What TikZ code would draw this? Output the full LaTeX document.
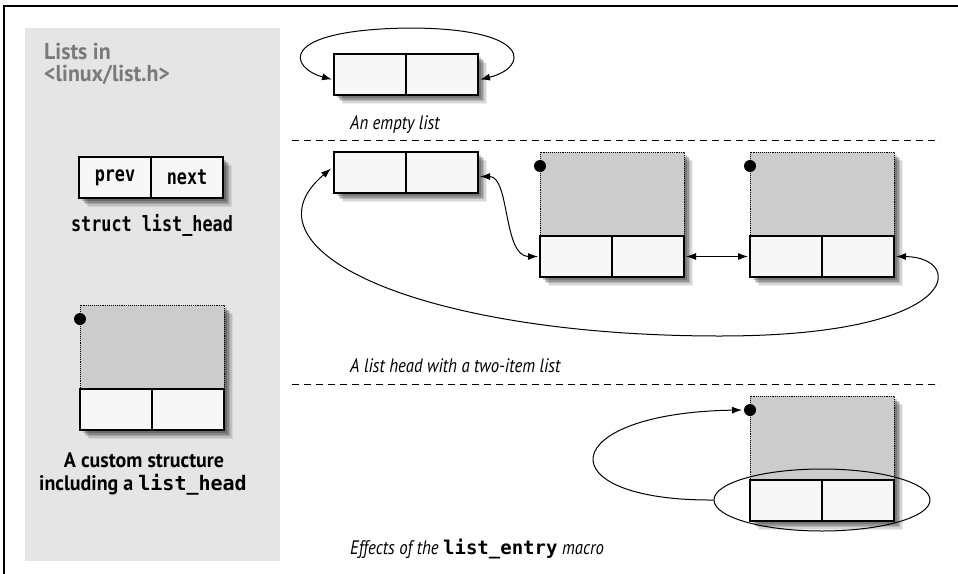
\documentclass[tikz,border=0pt]{standalone}
\usepackage{fontspec}
\setmainfont{PT Sans}
\newfontfamily\capfont[FakeStretch=0.86]{PT Sans}
\newfontfamily\headfont[FakeStretch=0.95]{PT Sans}
\newfontfamily\codefont[FakeStretch=0.8]{DejaVu Sans Mono}
\newfontfamily\codewide{DejaVu Sans Mono}
\usetikzlibrary{arrows.meta,shadows,shapes.geometric,calc}
\definecolor{cellfill}{HTML}{F7F7F7}
\definecolor{bodyfill}{HTML}{CCCCCC}
\definecolor{panelfill}{HTML}{E5E5E5}
\definecolor{headgrey}{HTML}{7A7A7A}
\begin{document}
\begin{tikzpicture}[x=1pt,y=-1pt,
  cell/.style={draw, line width=1.1pt, fill=cellfill, minimum width=72pt, minimum height=41pt, inner sep=0pt, outer sep=0pt},
  body/.style={draw, densely dotted, line width=0.9pt, fill=bodyfill, minimum width=144pt, minimum height=84pt, inner sep=0pt, outer sep=0pt},
  shadowbox/.style={fill=white, inner sep=0pt, outer sep=0pt,
    drop shadow={shadow xshift=9pt, shadow yshift=-9pt, fill=black, opacity=0.07},
    drop shadow={shadow xshift=7.5pt, shadow yshift=-7.5pt, fill=black, opacity=0.10},
    drop shadow={shadow xshift=6pt, shadow yshift=-6pt, fill=black, opacity=0.14},
    drop shadow={shadow xshift=4.5pt, shadow yshift=-4.5pt, fill=black, opacity=0.18},
    drop shadow={shadow xshift=3pt, shadow yshift=-3pt, fill=black, opacity=0.20}},
  dot/.style={circle, fill=black, minimum size=12pt, inner sep=0pt, outer sep=0pt},
  arr/.style={line width=1pt, {Latex[length=10pt,width=7pt]}-{Latex[length=10pt,width=7pt]}},
  arrend/.style={line width=1pt, -{Latex[length=10pt,width=7pt]}},
  sep/.style={line width=1pt, dash pattern=on 7pt off 5pt},
  caption/.style={font=\capfont\itshape\fontsize{19.5}{22}\selectfont, inner sep=0pt, anchor=base west},
  title/.style={font=\headfont\bfseries\fontsize{23}{26}\selectfont, text=headgrey, inner sep=0pt, anchor=base west},
  boldcap/.style={font=\headfont\bfseries\fontsize{21}{24}\selectfont, inner sep=0pt, anchor=base},
  code/.style={font=\codefont\bfseries\fontsize{21}{24}\selectfont, inner sep=0pt},
  pics/liststruct/.style={code={
    \node[shadowbox, minimum width=144pt, minimum height=125pt, anchor=north west] (-sh) at (0,0) {};
    \node[body, anchor=north west] (-body) at (0,0) {};
    \node[cell, anchor=north west] (-a) at (0,84) {};
    \node[cell, anchor=north west] (-b) at (72,84) {};
    \node[dot] (-dot) at (0,14) {};
  }},
  pics/headbox/.style={code={
    \node[shadowbox, minimum width=144pt, minimum height=41pt, anchor=north west] (-sh) at (0,0) {};
    \node[cell, anchor=north west] (-a) at (0,0) {};
    \node[cell, anchor=north west] (-b) at (72,0) {};
  }}
]
\path[use as bounding box] (0,0) rectangle (958,573);
% frame
\draw[line width=2pt] (4,6) -- (959,6);
\draw[line width=2pt] (4,5) -- (4,574);
% left panel
\fill[panelfill] (25,28) rectangle (280,561);
\node[title] (t1) at (44,59.5) {Lists in};
\node[title] (t2) at (44,81.5) {<linux/list.h>};
\pic (p) at (79,157) {headbox};
\node[code] (prev) at (p-a) {prev};
\node[code] (next) at (p-b) {next};
\node[code, anchor=base] (sname) at (152,231) {struct list\_head};
\pic (c) at (80,305) {liststruct};
\node[boldcap] (cs1) at (144,467) {A custom structure};
\node[boldcap] (cs2) at (143,490) {including a {\codewide\bfseries\fontsize{20}{24}\selectfont list\_head}};
% section 1: empty list
\pic (e) at (334,54) {headbox};
\draw[arr] ($(e-a.west)+(-2,5)$) .. controls (290,68) and (275,30) .. (408,28) .. controls (535,28) and (528,68) .. ($(e-b.east)+(2,5)$);
\node[caption] (cap1) at (350,129) {An empty list};
\draw[sep] (292,140) -- (940,140);
% section 2: two-item list
\pic (h) at (334,152) {headbox};
\pic (i1) at (540,152) {liststruct};
\pic (i2) at (750,152) {liststruct};
\draw[arr] ($(h-b.east)+(2,4)$) .. controls +(30,0) and +(-35,0) .. ($(i1-a.west)+(-2,0)$);
\draw[arr] ($(i1-b.east)+(2,0)$) -- ($(i2-a.west)+(-2,0)$);
\draw[arr] ($(i2-b.east)+(2,0)$) .. controls (965,257) and (965,336) .. (720,336) .. controls (420,336) and (235,250) .. ($(h-a.west)+(-3,-4)$);
\node[caption] (cap2) at (350,372.5) {A list head with a two-item list};
\draw[sep] (292,384) -- (940,384);
% section 3: list_entry
\pic (i3) at (750,396) {liststruct};
\node[draw, line width=1pt, ellipse, minimum width=216pt, minimum height=62pt, inner sep=0pt] (ell) at (822,500) {};
\draw[arrend] (ell.west) .. controls (545,501) and (555,413) .. ($(i3-dot.west)+(-2,0)$);
\node[caption] (cap3) at (350,554) {Effects of the {\codewide\bfseries\upshape\fontsize{19}{22}\selectfont list\_entry} macro};
\end{tikzpicture}
\end{document}
